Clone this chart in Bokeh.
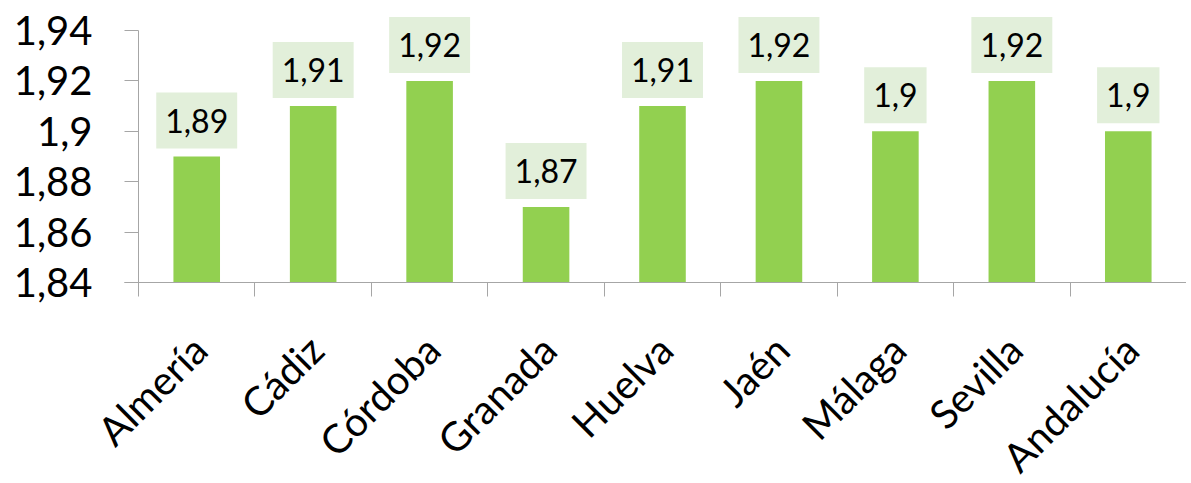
import math
from bokeh.plotting import figure
from bokeh.models import Range1d, FixedTicker, Label
from bokeh.embed import file_html
from bokeh.resources import INLINE

categories = ["Almería", "Cádiz", "Córdoba", "Granada", "Huelva", "Jaén", "Málaga", "Sevilla", "Andalucía"]
values = [1.89, 1.91, 1.92, 1.87, 1.91, 1.92, 1.90, 1.92, 1.90]
value_labels = ["1,89", "1,91", "1,92", "1,87", "1,91", "1,92", "1,9", "1,92", "1,9"]
y_ticks = [1.84, 1.86, 1.88, 1.90, 1.92, 1.94]
y_tick_labels = ["1,84", "1,86", "1,88", "1,9", "1,92", "1,94"]

FONT = "Lato"
AXIS_COLOR = "#A6A6A6"

n = len(categories)
xs = [i + 0.5 for i in range(n)]

# Layout (pixels). The plot frame covers almost the whole canvas so that the
# rotated category labels and the value-axis labels are not clipped; the
# axes are drawn at fixed positions inside it.
W, H = 1186, 482
L, T = 0, 10             # frame left / top
AXIS_X, AXIS_Y, TOP_Y = 138, 282, 30
TICK = 14
y_lo, y_hi = y_ticks[0], y_ticks[-1]
py = (y_hi - y_lo) / (AXIS_Y - TOP_Y)
px = n / (W - AXIS_X)
y_range = Range1d(y_lo - (H - AXIS_Y) * py, y_hi + (TOP_Y - T) * py)
x_range = Range1d(0 - (AXIS_X - L) * px, n)

p = figure(width=W, height=H, output_backend="svg", toolbar_location=None,
           x_range=x_range, y_range=y_range,
           x_axis_location="above", y_axis_location="right",
           min_border_left=L, min_border_top=T, min_border_right=0, min_border_bottom=0)
p.outline_line_color = None
p.grid.visible = False

p.vbar(x=xs, top=values, bottom=y_lo, width=0.4, fill_color="#92D050", line_color=None)

for x, v, t in zip(xs, values, value_labels):
    p.add_layout(Label(x=x, y=v, text=t, text_align="center", text_baseline="bottom",
                       y_offset=8, text_font=FONT, text_font_size="32px", text_color="#000000",
                       background_fill_color="#E2EFDA", padding=(9, 16)))

# category labels, rotated 45 degrees
for x, c in zip(xs, categories):
    p.add_layout(Label(x=x, y=y_lo, text=c, text_align="right", text_baseline="middle",
                       x_offset=3, y_offset=-60, angle=math.pi / 4,
                       text_font=FONT, text_font_size="40px", text_color="#000000"))

# value-axis tick labels
for t, l in zip(y_ticks, y_tick_labels):
    p.add_layout(Label(x=0, y=t, text=l, text_align="right", text_baseline="middle",
                       x_offset=-46, text_font=FONT, text_font_size="40px", text_color="#000000"))

xa = p.xaxis[0]
xa.fixed_location = y_lo
xa.bounds = (0 - TICK * px, n)
xa.ticker = FixedTicker(ticks=xs, minor_ticks=list(range(n + 1)))
xa.major_label_overrides = {x: "" for x in xs}
xa.major_tick_line_color = None
xa.major_tick_out = 0
xa.major_tick_in = 0
xa.minor_tick_out = 0
xa.minor_tick_in = TICK
xa.minor_tick_line_color = AXIS_COLOR
xa.axis_line_color = AXIS_COLOR
xa.major_label_standoff = 0
xa.major_label_text_font_size = "1px"

ya = p.yaxis[0]
ya.fixed_location = 0
ya.bounds = (y_lo, y_hi)
ya.ticker = FixedTicker(ticks=y_ticks, minor_ticks=[])
ya.major_label_overrides = {t: "" for t in y_ticks}
ya.major_tick_out = 0
ya.major_tick_in = TICK
ya.minor_tick_out = 0
ya.minor_tick_in = 0
ya.major_tick_line_color = AXIS_COLOR
ya.axis_line_color = AXIS_COLOR
ya.major_label_standoff = 0
ya.major_label_text_font_size = "1px"

open("out.html", "w").write(file_html(p, INLINE))
